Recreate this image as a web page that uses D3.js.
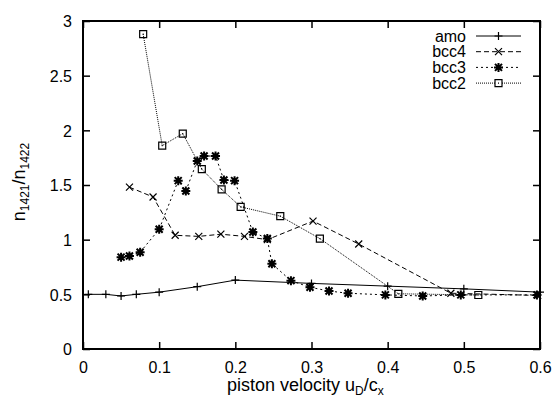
<!doctype html>
<html>
  <head>
    <script src="https://cdn.jsdelivr.net/npm/d3@7/dist/d3.min.js"></script>
    <style>
      body { margin: 0; background: #fff; }
      text { font-family: "Liberation Sans", Arial, sans-serif; fill: #000; }
    </style>
  </head>
  <body>
    <svg></svg>
    <script>
      var width = 557,
          height = 397;

      // data
      var amoX  = [0.007, 0.03, 0.05, 0.07, 0.10, 0.15, 0.20, 0.30, 0.40, 0.50, 0.60];
      var amoY  = [0.50, 0.50, 0.485, 0.50, 0.52, 0.57, 0.63, 0.60, 0.575, 0.55, 0.52];
      var bcc4X = [0.061, 0.092, 0.121, 0.152, 0.181, 0.212, 0.242, 0.302, 0.362, 0.483, 0.597];
      var bcc4Y = [1.48, 1.39, 1.04, 1.03, 1.05, 1.03, 1.00, 1.17, 0.96, 0.51, 0.49];
      var bcc3X = [0.050, 0.061, 0.075, 0.100, 0.125, 0.135, 0.150, 0.159, 0.174, 0.185, 0.199, 0.223, 0.242, 0.248, 0.273, 0.298, 0.323, 0.348, 0.397, 0.446, 0.496, 0.596];
      var bcc3Y = [0.84, 0.85, 0.885, 1.095, 1.54, 1.445, 1.72, 1.765, 1.765, 1.545, 1.54, 1.07, 1.01, 0.78, 0.625, 0.565, 0.53, 0.51, 0.495, 0.485, 0.495, 0.495];
      var bcc2X = [0.079, 0.104, 0.131, 0.156, 0.182, 0.207, 0.259, 0.311, 0.414, 0.519];
      var bcc2Y = [2.88, 1.86, 1.97, 1.645, 1.46, 1.30, 1.215, 1.01, 0.505, 0.494];

      var xTicks = [0, 0.1, 0.2, 0.3, 0.4, 0.5, 0.6];
      var yTicks = [0, 0.5, 1, 1.5, 2, 2.5, 3];
      var seriesNames = ["amo", "bcc4", "bcc3", "bcc2"];

      var series = [
        { name: seriesNames[0], xs: amoX,  ys: amoY,  dash: null,  mark: "plus" },
        { name: seriesNames[1], xs: bcc4X, ys: bcc4Y, dash: "5,3", mark: "cross" },
        { name: seriesNames[2], xs: bcc3X, ys: bcc3Y, dash: "2,3", mark: "star" },
        { name: seriesNames[3], xs: bcc2X, ys: bcc2Y, dash: "1,1", mark: "box" }
      ];

      var padL = 83, padR = 540, padT = 21, padB = 349;

      var x = d3.scaleLinear().domain([0, 0.6]).range([padL, padR]);
      var y = d3.scaleLinear().domain([0, 3]).range([padB, padT]);

      var svg = d3.select("svg").attr("width", width).attr("height", height);

      function markPath(kind) {
        if (kind == "plus") return "M-4,0H4M0,-4V4";
        if (kind == "cross") return "M-3.5,-3.5L3.5,3.5M-3.5,3.5L3.5,-3.5";
        if (kind == "star") return "M-4.5,0H4.5M0,-4.5V4.5M-3.5,-3.5L3.5,3.5M-3.5,3.5L3.5,-3.5";
        return "M-3.5,-3.5H3.5V3.5H-3.5Z M-0.5,0H0.5";
      }

      var fmt = function(d) { return String(d); };

      // axes (ticks inward, mirrored)
      var axB = d3.axisBottom(x).tickValues(xTicks).tickSize(-7).tickFormat(fmt);
      var axT = d3.axisTop(x).tickValues(xTicks).tickSize(-7).tickFormat("");
      var axL = d3.axisLeft(y).tickValues(yTicks).tickSize(-7).tickFormat(fmt);
      var axR = d3.axisRight(y).tickValues(yTicks).tickSize(-7).tickFormat("");

      function styleAxis(g) {
        g.select(".domain").remove();
        g.selectAll(".tick line").attr("stroke", "#000").attr("stroke-width", 1.5);
        g.selectAll("text").attr("font-size", 16).attr("fill", "#000")
          .attr("font-family", "Liberation Sans, Arial, sans-serif");
      }

      svg.append("g").attr("transform", "translate(0," + padB + ")").call(axB).call(styleAxis)
        .selectAll("text").attr("dy", null).attr("y", 24);
      svg.append("g").attr("transform", "translate(0," + padT + ")").call(axT).call(styleAxis);
      svg.append("g").attr("transform", "translate(" + padL + ",0)").call(axL).call(styleAxis)
        .selectAll("text").attr("x", -11).attr("dy", "0.36em");
      svg.append("g").attr("transform", "translate(" + padR + ",0)").call(axR).call(styleAxis);

      svg.append("rect")
        .attr("x", padL).attr("y", padT)
        .attr("width", padR - padL).attr("height", padB - padT)
        .attr("fill", "none").attr("stroke", "#000").attr("stroke-width", 2);

      // curves
      var line = d3.line().x(function(d) { return x(d[0]); }).y(function(d) { return y(d[1]); });

      series.forEach(function(s) {
        var pts = s.xs.map(function(v, i) { return [v, s.ys[i]]; });
        svg.append("path")
          .attr("d", line(pts))
          .attr("fill", "none")
          .attr("stroke", "#000")
          .attr("stroke-width", 1)
          .attr("stroke-dasharray", s.dash);
        svg.selectAll(null).data(pts).enter().append("path")
          .attr("transform", function(d) { return "translate(" + x(d[0]) + "," + y(d[1]) + ")"; })
          .attr("d", markPath(s.mark))
          .attr("fill", "none")
          .attr("stroke", "#000")
          .attr("stroke-width", s.mark == "star" ? 2 : 1.2);
      });

      // legend
      var legend = svg.append("g");
      series.forEach(function(s, i) {
        var ly = 36 + i * 15.7;
        legend.append("text")
          .attr("x", 466).attr("y", ly).attr("dy", "0.36em")
          .attr("text-anchor", "end").attr("font-size", 16)
          .text(s.name);
        legend.append("line")
          .attr("x1", 476).attr("x2", 521).attr("y1", ly).attr("y2", ly)
          .attr("stroke", "#000").attr("stroke-width", 1)
          .attr("stroke-dasharray", s.dash);
        legend.append("path")
          .attr("transform", "translate(498.5," + ly + ")")
          .attr("d", markPath(s.mark))
          .attr("fill", s.mark == "box" ? "#fff" : "none")
          .attr("stroke", "#000")
          .attr("stroke-width", s.mark == "star" ? 2 : 1.2);
      });

      // axis titles
      var xt = svg.append("text").attr("x", 227).attr("y", 391).attr("font-size", 18);
      xt.append("tspan").text("piston velocity u");
      xt.append("tspan").attr("font-size", 12).attr("dy", 4).text("D");
      xt.append("tspan").attr("dy", -4).text("/c");
      xt.append("tspan").attr("font-size", 12).attr("dy", 4).text("x");

      var yt = svg.append("text")
        .attr("transform", "translate(25,182) rotate(-90)")
        .attr("text-anchor", "middle").attr("font-size", 18);
      yt.append("tspan").text("n");
      yt.append("tspan").attr("font-size", 12).attr("dy", 4).text("1421");
      yt.append("tspan").attr("dy", -4).text("/n");
      yt.append("tspan").attr("font-size", 12).attr("dy", 4).text("1422");
    </script>
  </body>
</html>
